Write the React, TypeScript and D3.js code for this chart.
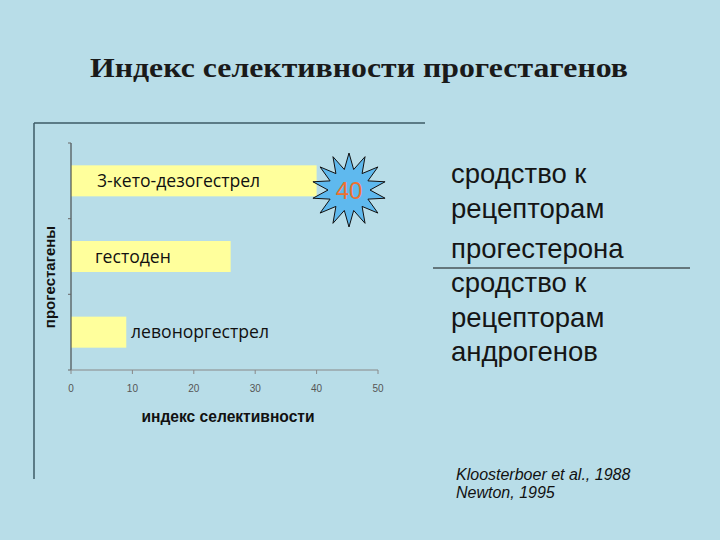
import React from "react";
import * as d3 from "d3";

const categories = ["3-кето-дезогестрел", "гестоден", "левоноргестрел"];
const values = [40, 26, 9];
const xTicks = [0, 10, 20, 30, 40, 50];
const rightLines = ["сродство к", "рецепторам", "прогестерона", "сродство к", "рецепторам", "андрогенов"];
const citations = ["Kloosterboer et al., 1988", "Newton, 1995"];

export default function App() {
  const W = 720, H = 540;
  const x = d3.scaleLinear().domain([0, 50]).range([71, 378]);
  const y = d3.scaleBand<string>().domain(categories).range([143, 370]).paddingInner(0.59).paddingOuter(0.295);
  const labelX = [97, 95, 131];

  // star
  const cx = 349, cy = 190, nPts = 14;
  const starPts: [number, number][] = [];
  for (let i = 0; i < nPts * 2; i++) {
    const a = (Math.PI * i) / nPts - Math.PI / 2;
    const r = i % 2 === 0 ? 37 : 21;
    starPts.push([cx + r * Math.cos(a), cy + r * Math.sin(a)]);
  }
  const starPath = d3.line()(starPts) + "Z";

  return (
    <svg width={W} height={H} style={{ position: "absolute", left: 0, top: 0 }} xmlns="http://www.w3.org/2000/svg">
      <rect x={0} y={0} width={W} height={H} fill="#b8dde8" />
      <text x={359} y={77} textAnchor="middle" fontFamily="'Liberation Serif', 'DejaVu Serif', serif" fontWeight="bold" fontSize={28} fill="#1a1a1a" textLength={538} lengthAdjust="spacingAndGlyphs">
        Индекс селективности прогестагенов
      </text>

      {/* chart frame */}
      <line x1={34} y1={123} x2={425} y2={123} stroke="#3d5a66" strokeWidth={1.5} />
      <line x1={34} y1={123} x2={34} y2={479} stroke="#3d5a66" strokeWidth={1.5} />

      {/* bars */}
      {categories.map((c, i) => (
        <rect key={c} x={x(0)} y={y(c)} width={x(values[i]) - x(0)} height={y.bandwidth()} fill="#ffff9c" />
      ))}

      {/* axes */}
      <line x1={x(0)} y1={143} x2={x(0)} y2={370} stroke="#333" strokeWidth={1} />
      <line x1={x(0)} y1={370} x2={x(50)} y2={370} stroke="#888" strokeWidth={1} />
      {[143, 218.7, 294.3, 370].map((t, i) => (
        <line key={i} x1={x(0) - 3} y1={t} x2={x(0)} y2={t} stroke="#666" strokeWidth={1} />
      ))}
      {xTicks.map((t) => (
        <g key={t}>
          <line x1={x(t)} y1={370} x2={x(t)} y2={374} stroke="#888" strokeWidth={1} />
          <text x={x(t)} y={392} textAnchor="middle" fontFamily="'Liberation Sans', Arial, sans-serif" fontSize={10} fill="#555">{t}</text>
        </g>
      ))}

      {/* bar labels */}
      {categories.map((c, i) => (
        <text key={c} x={labelX[i]} y={(y(c) as number) + y.bandwidth() / 2 + 6} fontFamily="'Open Sans', sans-serif" fontSize={17.6} fill="#111">{c}</text>
      ))}

      {/* axis titles */}
      <text x={228} y={422} textAnchor="middle" fontFamily="'Liberation Sans', Arial, sans-serif" fontWeight="bold" fontSize={15.6} fill="#111">индекс селективности</text>
      <text transform="translate(55,277) rotate(-90)" textAnchor="middle" fontFamily="'Liberation Sans', Arial, sans-serif" fontWeight="bold" fontSize={15} fill="#111">прогестагены</text>

      {/* star */}
      <path d={starPath} fill="#5fb9ee" stroke="#111" strokeWidth={1} />
      <text x={cx} y={cy + 9} textAnchor="middle" fontFamily="'Liberation Sans', Arial, sans-serif" fontSize={24} fill="#ee7030">{values[0]}</text>

      {/* right text */}
      {rightLines.map((t, i) => (
        <text key={i} x={451} y={[183, 218, 258, 292, 327, 361][i]} fontFamily="'Liberation Sans', Arial, sans-serif" fontSize={27.5} fill="#151515">{t}</text>
      ))}
      <line x1={433} y1={268} x2={690} y2={268} stroke="#111" strokeWidth={1} />

      {citations.map((t, i) => (
        <text key={i} x={456} y={480 + i * 18} fontFamily="'Liberation Sans', Arial, sans-serif" fontStyle="italic" fontSize={16} fill="#111">{t}</text>
      ))}
    </svg>
  );
}
